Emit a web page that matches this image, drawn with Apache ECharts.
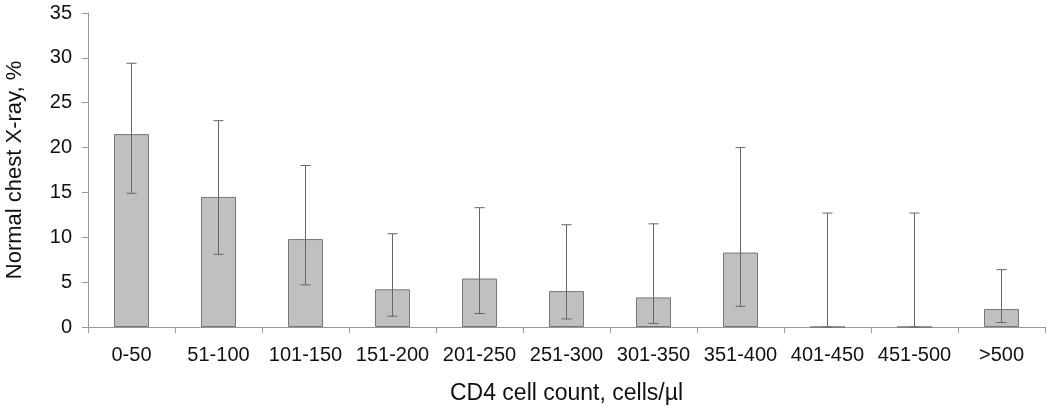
<!DOCTYPE html>
<html><head><meta charset="utf-8">
<script src="https://cdn.jsdelivr.net/npm/echarts@6/dist/echarts.min.js"></script>
<style>html,body{margin:0;padding:0;background:#fff}#c{width:1050px;height:410px}</style>
</head><body><div id="c"></div>
<script>
var categories = ['0-50','51-100','101-150','151-200','201-250','251-300','301-350','351-400','401-450','451-500','>500'];
var values = [21.5, 14.5, 9.8, 4.2, 5.4, 4.0, 3.3, 8.3, 0, 0, 2.0];
var errLow = [14.9, 8.1, 4.7, 1.2, 1.5, 0.9, 0.4, 2.3, 0, 0, 0.5];
var errHigh = [29.4, 23.0, 18.0, 10.4, 13.3, 11.4, 11.5, 20.0, 12.7, 12.7, 6.4];
var yTicks = [0, 5, 10, 15, 20, 25, 30, 35];

var errData = categories.map(function (c, i) { return [i, errLow[i], errHigh[i]]; });
var font = 'Liberation Sans, Arial, sans-serif';
var chart = echarts.init(document.getElementById('c'), null, {renderer: 'canvas'});
chart.setOption({
  animation: false,
  grid: {left: 88, right: 5, top: 13, bottom: 83, containLabel: false, outerBoundsMode: 'none'},
  xAxis: {
    type: 'category', data: categories, boundaryGap: true,
    name: 'CD4 cell count, cells/\u00b5l', nameLocation: 'middle', nameGap: 55,
    nameTextStyle: {fontFamily: font, fontSize: 23, color: '#111'},
    axisLine: {lineStyle: {color: '#999', width: 1}},
    axisTick: {show: true, alignWithLabel: false, length: 6, lineStyle: {color: '#999'}},
    axisLabel: {fontFamily: font, fontSize: 20, color: '#111', margin: 18, interval: 0}
  },
  yAxis: {
    type: 'value', min: yTicks[0], max: yTicks[yTicks.length - 1], interval: 5,
    name: 'Normal chest X-ray, %', nameLocation: 'middle', nameGap: 62,
    nameTextStyle: {fontFamily: font, fontSize: 22, color: '#111'},
    axisLine: {show: true, lineStyle: {color: '#999', width: 1}},
    axisTick: {show: true, length: 6, lineStyle: {color: '#999'}},
    axisLabel: {fontFamily: font, fontSize: 20, color: '#111', margin: 16},
    splitLine: {show: false}
  },
  series: [
    {
      type: 'bar', data: values, barWidth: 35,
      itemStyle: {color: '#c0c0c0', borderColor: '#777', borderWidth: 1}
    },
    {
      type: 'custom', data: errData, z: 10,
      renderItem: function (params, api) {
        var x = api.value(0);
        var lo = api.coord([x, api.value(1)]);
        var hi = api.coord([x, api.value(2)]);
        var w = 5;
        var st = {stroke: '#666', lineWidth: 1};
        return {type: 'group', children: [
          {type: 'line', shape: {x1: hi[0], y1: hi[1], x2: lo[0], y2: lo[1]}, style: st},
          {type: 'line', shape: {x1: hi[0] - w, y1: hi[1], x2: hi[0] + w, y2: hi[1]}, style: st},
          {type: 'line', shape: {x1: lo[0] - w, y1: lo[1], x2: lo[0] + w, y2: lo[1]}, style: st}
        ]};
      }
    }
  ]
});
</script></body></html>
